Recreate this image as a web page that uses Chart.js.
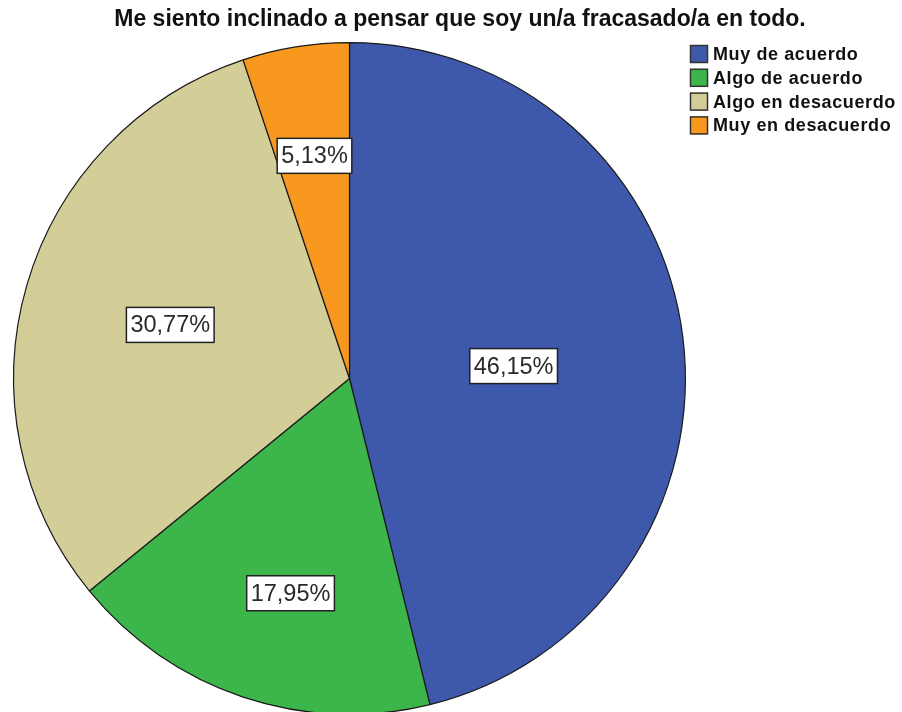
<!DOCTYPE html>
<html>
<head>
<meta charset="utf-8">
<script src="https://cdn.jsdelivr.net/npm/chart.js@4"></script>
<style>
  html, body { margin: 0; padding: 0; background: #fff; overflow: hidden; }
  .wrap { position: relative; width: 902px; height: 712px; overflow: hidden; }
  #pie { position: absolute; left: 0; top: 0; }
</style>
</head>
<body>
<div class="wrap"><canvas id="pie" width="902" height="720"></canvas></div>
<script>
const titleText = 'Me siento inclinado a pensar que soy un/a fracasado/a en todo.';
const categories = ['Muy de acuerdo', 'Algo de acuerdo', 'Algo en desacuerdo', 'Muy en desacuerdo'];
const percents = [46.15, 17.95, 30.77, 5.13];
const colors = ['#3e58ab', '#3cb64b', '#d3cd98', '#f8981f'];

// where each value box sits: fraction of radius, and a small angle nudge (deg)
const labelRadius = [0.49, 0.663, 0.557, 0.671];
const labelNudge = [2.6, -3.1, 0.5, 0.3];

const fmt = v => v.toFixed(2).replace('.', ',') + '%';

const titlePlugin = {
    id: 'spssTitle',
    afterDraw(chart) {
        const ctx = chart.ctx;
        ctx.save();
        ctx.fillStyle = '#111';
        ctx.font = 'bold 23px "Liberation Sans", Arial, sans-serif';
        ctx.textAlign = 'center';
        ctx.textBaseline = 'middle';
        ctx.fillText(titleText, 460, 20);
        ctx.restore();
    }
};

const legendPlugin = {
    id: 'spssLegend',
    afterDraw(chart) {
        const ctx = chart.ctx;
        ctx.save();
        ctx.font = 'bold 18px "Liberation Sans", Arial, sans-serif';
        ctx.letterSpacing = '0.6px';
        ctx.textBaseline = 'middle';
        categories.forEach((name, i) => {
            const y = 45 + i * 23.8;
            ctx.fillStyle = colors[i];
            ctx.fillRect(690, y, 18, 18);
            ctx.strokeStyle = '#333';
            ctx.lineWidth = 1.5;
            ctx.strokeRect(690.5, y + 0.5, 17, 17);
            ctx.fillStyle = '#111';
            ctx.fillText(name, 713, y + 10);
        });
        ctx.restore();
    }
};

const valueBoxes = {
    id: 'valueBoxes',
    afterDatasetsDraw(chart) {
        const ctx = chart.ctx;
        const arcs = chart.getDatasetMeta(0).data;
        ctx.save();
        ctx.font = '23.5px "Liberation Sans", Arial, sans-serif';
        ctx.textAlign = 'center';
        ctx.textBaseline = 'middle';
        arcs.forEach((arc, i) => {
            const mid = (arc.startAngle + arc.endAngle) / 2 + labelNudge[i] * Math.PI / 180;
            const r = arc.outerRadius * labelRadius[i];
            const x = arc.x + Math.cos(mid) * r;
            const y = arc.y + Math.sin(mid) * r;
            const txt = fmt(percents[i]);
            const w = ctx.measureText(txt).width + 8;
            const h = 35;
            ctx.fillStyle = '#fff';
            ctx.fillRect(x - w / 2, y - h / 2, w, h);
            ctx.strokeStyle = '#222';
            ctx.lineWidth = 1.5;
            ctx.strokeRect(x - w / 2, y - h / 2, w, h);
            ctx.fillStyle = '#2a2a2a';
            ctx.fillText(txt, x, y + 1);
        });
        ctx.restore();
    }
};

new Chart(document.getElementById('pie'), {
    type: 'pie',
    data: {
        labels: categories,
        datasets: [{
            data: percents,
            backgroundColor: colors,
            borderColor: '#1a1a1a',
            borderWidth: 1.2
        }]
    },
    options: {
        responsive: false,
        animation: false,
        layout: { padding: { left: 13, right: 216, top: 42, bottom: 5 } },
        plugins: {
            legend: { display: false },
            title: { display: false },
            tooltip: { enabled: false }
        }
    },
    plugins: [valueBoxes, titlePlugin, legendPlugin]
});
</script>
</body>
</html>
